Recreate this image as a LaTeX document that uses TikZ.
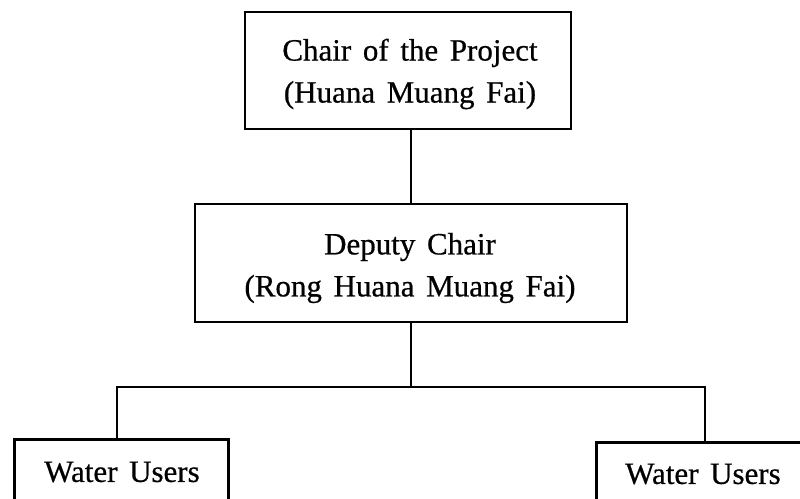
\documentclass[tikz,border=0pt]{standalone}
\usepackage{fontspec}
\setmainfont[FakeBold=0.6,WordSpace={1.5,1,1}]{Liberation Serif}
\begin{document}
\begin{tikzpicture}[x=1pt,y=-1pt,
  box/.style={draw, line width=2.6pt, rectangle, inner sep=0pt},
  txt/.style={align=center, inner sep=0pt, font=\fontsize{31}{42}\selectfont},
  link/.style={line width=2.4pt}]
\useasboundingbox (0,0) rectangle (800,498);
\clip (0,0) rectangle (800,498);
\fill[white] (0,0) rectangle (800,498);

% upper levels of the organisation
\node[box, minimum width=326pt, minimum height=117pt] (chair) at (408,70.5) {};
\node[txt] (chairtxt) at (410,74) {Chair of the Project\\(Huana Muang Fai)};
\node[box, minimum width=432pt, minimum height=118pt] (deputy) at (411,263) {};
\node[txt] (deputytxt) at (410,268) {Deputy Chair\\(Rong Huana Muang Fai)};

% water user groups (cut by the lower edge)
\node[box, anchor=north west, minimum width=214pt, minimum height=100pt] (usersl) at (13,438) {};
\node[txt] (userstxtl) at (122,472) {Water Users};
\node[box, anchor=north west, minimum width=220pt, minimum height=100pt] (usersr) at (595,441) {};
\node[txt] (userstxtr) at (703,474) {Water Users};

% connectors
\coordinate (bus) at (411,387);
\coordinate (busl) at (117,387);
\coordinate (busr) at (705,387);
\draw[link] (chair.south -| deputy.north) -- (deputy.north);
\draw[link] (deputy.south) -- (bus);
\draw[link] (usersl.north west -| busl) -- (busl) -- (busr) -- (usersr.north west -| busr);
\end{tikzpicture}
\end{document}
